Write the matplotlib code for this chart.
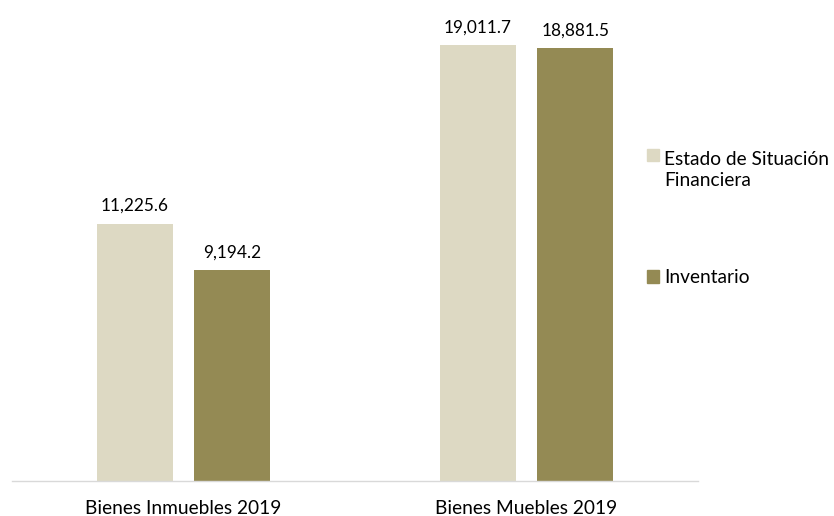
import matplotlib
matplotlib.use("Agg")
import matplotlib.pyplot as plt
from matplotlib.patches import Patch, Rectangle
from matplotlib.legend_handler import HandlerPatch
import numpy as np

categories = ["Bienes Inmuebles 2019", "Bienes Muebles 2019"]
series_names = ["Estado de Situación\nFinanciera", "Inventario"]
estado_values = [11225.6, 19011.7]
inventario_values = [9194.2, 18881.5]
colors = ["#DDD9C3", "#948A54"]

plt.rcParams["font.family"] = ["Lato", "DejaVu Sans"]

fig = plt.figure(figsize=(8.34, 5.16), dpi=100)
ax = fig.add_axes([0.0144, 0.0678, 0.8225, 0.889])

x = np.arange(len(categories))
width = 0.222
offset = 0.142

for i, vals in enumerate([estado_values, inventario_values]):
    pos = x + (-offset if i == 0 else offset)
    bars = ax.bar(pos, vals, width, color=colors[i])
    for b, v in zip(bars, vals):
        ax.annotate(f"{v:,.1f}", (b.get_x() + b.get_width() / 2, v),
                    xytext=(0, 7), textcoords="offset points",
                    ha="center", va="bottom", fontsize=12.4, color="#000000")

ax.set_xlim(-0.5, 1.5)
ax.set_ylim(0, 20000)
ax.set_xticks(x)
ax.set_xticklabels(categories, fontsize=13.8)
ax.tick_params(axis="x", length=0, pad=14)
ax.set_yticks([])
for side in ["top", "right", "left"]:
    ax.spines[side].set_visible(False)
ax.spines["bottom"].set_color("#D9D9D9")
ax.spines["bottom"].set_linewidth(1.0)


# legend square sits on the first text line, like the original
def _top_square(legend, orig_handle, xdescent, ydescent, width, height, fontsize):
    return Rectangle((-xdescent, -ydescent + 11), width, height)


handles = [Patch(color=c) for c in colors]
leg = ax.legend(handles, series_names, loc="center left", bbox_to_anchor=(0.926, 0.572),
                frameon=False, fontsize=13.75, handlelength=0.63, handleheight=0.63,
                handletextpad=0.26, labelspacing=4.2, borderaxespad=0, borderpad=0,
                handler_map={handles[0]: HandlerPatch(patch_func=_top_square)})
for t in leg.get_texts():
    t.set_linespacing(1.25)

fig.savefig("out.png", dpi=100)
